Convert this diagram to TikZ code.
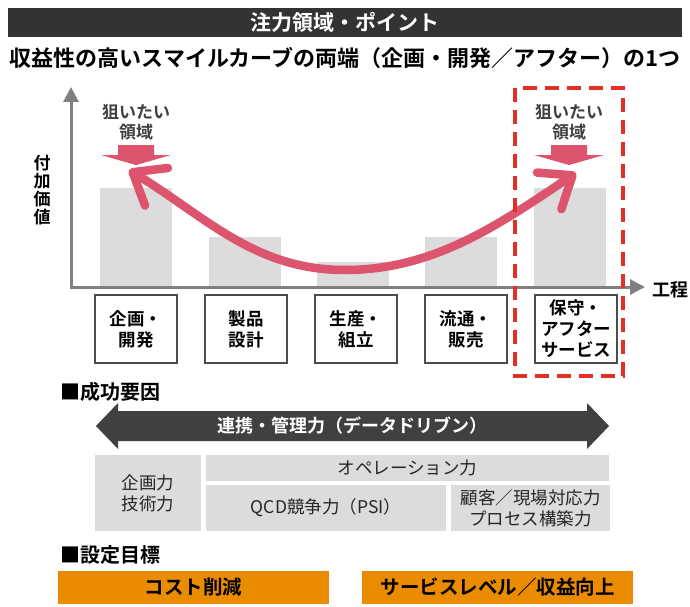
\documentclass[tikz,border=0pt]{standalone}
\usepackage{fontspec}
\setmainfont{Noto Sans CJK JP}[BoldFont={Noto Sans CJK JP Bold}]
\usetikzlibrary{positioning,arrows.meta}
\definecolor{titlegray}{RGB}{51,51,51}
\definecolor{axisgray}{RGB}{128,128,128}
\definecolor{bargray}{RGB}{220,220,220}
\definecolor{smilepink}{RGB}{220,84,110}
\definecolor{focusred}{RGB}{228,48,36}
\definecolor{linkgray}{RGB}{64,64,64}
\definecolor{goalorange}{RGB}{234,139,0}

\begin{document}
\begin{tikzpicture}[
        x=1pt, y=-1pt,
        procbox/.style={draw=black!70, line width=1.5pt, fill=white, minimum width=82pt, minimum height=68pt, inner sep=0pt, align=center, font=\bfseries\fontsize{17.5pt}{21pt}\selectfont},
        factor/.style={fill=bargray, inner sep=0pt, align=center, text=black!85, font=\fontsize{17.5pt}{21pt}\selectfont},
        goal/.style={fill=goalorange, minimum width=271pt, minimum height=33pt, inner sep=0pt, font=\bfseries\fontsize{19.5pt}{22pt}\selectfont},
        heading/.style={anchor=west, inner sep=0pt, font=\bfseries\fontsize{20pt}{22pt}\selectfont},
        aimlabel/.style={align=center, inner sep=0pt, text=linkgray, font=\bfseries\fontsize{17pt}{20pt}\selectfont},
        axis/.style={draw=axisgray, line width=3pt, {Triangle[length=15pt,width=15pt]}-{Triangle[length=15pt,width=15pt]}},
        smile/.style={draw=smilepink, line width=8.5pt, line cap=round, {Straight Barb[length=28pt,width=44pt,round]}-{Straight Barb[length=28pt,width=44pt,round]}},
        focus/.style={draw=focusred, line width=4.5pt, dash pattern=on 14pt off 8pt}
    ]
    \useasboundingbox[fill=white] (0,0) rectangle (690,607);

    % Title and subtitle
    \node[fill=titlegray, minimum width=674pt, minimum height=29pt, inner sep=0pt, text=white, font=\bfseries\fontsize{21pt}{22pt}\selectfont] (title) at (345,22.5) {注力領域・ポイント};
    \node[inner sep=0pt, font=\bfseries\fontsize{22pt}{24pt}\selectfont] (subtitle) at (345,58) {収益性の高いスマイルカーブの両端（企画・開発／アフター）の1つ};

    % Bars of the smile curve
    \foreach \cx/\top in {136/188, 244.5/237, 353/262, 461/237, 569.5/188}
        \fill[bargray] (\cx-36,\top) rectangle (\cx+36,286);

    % Axes
    \coordinate (origin) at (71,287);
    \coordinate (ytip) at (71,87);
    \coordinate (xtip) at (645,287);
    \draw[axis] (ytip) -- (origin) -- (xtip);
    \node[align=center, inner sep=0pt, font=\bfseries\fontsize{17pt}{18pt}\selectfont] (yname) at (42,190) {付\\加\\価\\値};
    \node[inner sep=0pt, font=\bfseries\fontsize{18pt}{20pt}\selectfont] (xname) at (670,290) {工程};

    % Target areas
    \foreach \cx/\nm in {136/L, 569/R} {
        \node[aimlabel] (aim\nm) at (\cx,122) {狙いたい\\領域};
        \fill[smilepink] (\cx-18,145) -- (\cx+18,145) -- (\cx+18,155) -- (\cx+35,155)
            -- (\cx,165) -- (\cx-35,155) -- (\cx-18,155) -- cycle;
    }

    % Smile curve
    \coordinate (tipL) at (129,170);
    \coordinate (valley) at (345,270);
    \coordinate (tipR) at (576,173);
    \draw[smile] (tipL) .. controls (206,217) and (255,270) .. (valley)
        .. controls (435,270) and (501,223) .. (tipR);

    % Process steps
    \node[procbox] (plan) at (136,329) {企画・\\開発};
    \node[procbox, right=26.5pt of plan] (design) {製品\\設計};
    \node[procbox, right=26.5pt of design] (make) {生産・\\組立};
    \node[procbox, right=26.5pt of make] (sell) {流通・\\販売};
    \node[procbox, right=26.5pt of sell] (service) {保守・\\アフター\\サービス};

    % Focus frame
    \draw[focus] (515,88) rectangle (623,376);

    % Key success factors
    \node[heading] (keyhead) at (60,392) {■成功要因};
    \fill[linkgray] (96,426) -- (118,403) -- (118,411) -- (587,411) -- (587,403) -- (609,426)
        -- (587,449) -- (587,441) -- (118,441) -- (118,449) -- cycle;
    \node[text=white, font=\bfseries\fontsize{18pt}{20pt}\selectfont] (link) at (352,426) {連携・管理力（データドリブン）};

    \node[factor, minimum width=106pt, minimum height=76pt] (planning) at (148,493) {企画力\\技術力};
    \node[factor, minimum width=403pt, minimum height=26pt] (operation) at (407.5,468) {オペレーション力};
    \node[factor, minimum width=240pt, minimum height=46pt] (qcd) at (326,508) {QCD競争力（PSI）};
    \node[factor, minimum width=159pt, minimum height=46pt] (field) at (530.5,508) {顧客／現場対応力\\プロセス構築力};

    % Goals
    \node[heading] (goalhead) at (60,555) {■設定目標};
    \node[goal] (cost) at (193.5,587.5) {コスト削減};
    \node[goal] (level) at (497.5,587.5) {サービスレベル／収益向上};

\end{tikzpicture}
\end{document}
